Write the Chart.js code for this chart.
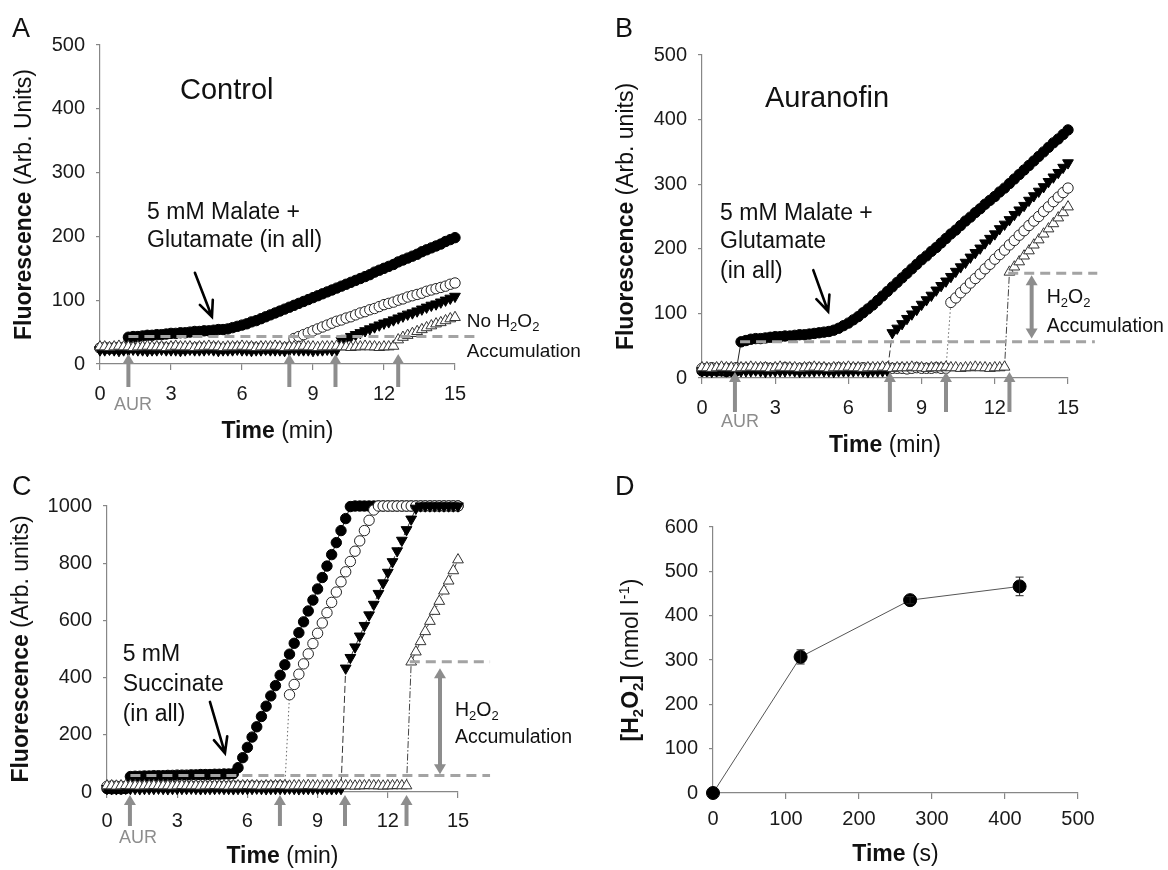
<!DOCTYPE html>
<html>
<head>
<meta charset="utf-8">
<script src="https://cdn.jsdelivr.net/npm/chart.js@4.4.1/dist/chart.umd.min.js"></script>
<style>
html, body { margin: 0; padding: 0; background: #fff; }
#wrap { position: relative; width: 1168px; height: 870px; overflow: hidden; }
canvas { position: absolute; }
</style>
</head>
<body>
<div id="wrap">
  <canvas id="chartA" width="584" height="460" style="left:0;top:0;width:584px;height:460px"></canvas>
  <canvas id="chartB" width="584" height="460" style="left:584px;top:0;width:584px;height:460px"></canvas>
  <canvas id="chartC" width="584" height="430" style="left:0;top:440px;width:584px;height:430px"></canvas>
  <canvas id="chartD" width="584" height="430" style="left:584px;top:440px;width:584px;height:430px"></canvas>
</div>
<script>
// Fluorescence traces, one value every 0.2 min from 0 to 15 min
const DT = 0.2;
const minTicks = [0, 3, 6, 9, 12, 15];
const ticks500 = [0, 100, 200, 300, 400, 500];
const ticks1000 = [0, 200, 400, 600, 800, 1000];

// Panel A - Control
const aFilledCirc = [
  25,25,24,25,26,25,
  42,43,43,44,45,45,46,46,47,48,48,49,49,50,51,51,52,52,53,54,54,55,
  57,59,61,63,66,68,71,74,77,80,83,86,89,92,95,98,101,104,107,110,
  113,116,119,122,125,128,131,134,137,140,144,147,150,153,156,160,163,166,169,172,
  176,179,182,185,188,192,195,198];
const aOpenCirc = [
  25,26,25,25,24,25,26,26,25,25,25,24,25,26,25,25,26,25,24,25,
  25,26,25,25,26,25,24,25,25,26,25,25,26,25,25,24,25,26,25,25,26,
  40,43,46,49,52,55,58,61,64,67,69,72,74,77,80,82,85,87,90,93,
  95,97,100,102,105,107,109,111,114,116,118,120,122,125,127];
const aFilledTri = [
  22,22,23,22,21,22,22,23,22,22,21,22,22,23,22,22,22,21,22,23,
  22,22,22,23,22,21,22,22,22,23,22,22,21,22,22,23,22,22,22,21,
  22,23,22,22,22,21,22,22,23,22,22,
  37,40,43,46,49,52,55,58,61,64,66,69,72,75,78,80,83,86,89,92,94,97,100,103,106];
const aOpenTri = [
  27,27,26,27,28,27,27,26,27,27,28,27,27,27,26,27,28,27,27,27,
  26,27,27,28,27,27,26,27,27,27,28,27,27,26,27,27,27,28,27,26,
  27,27,27,28,27,27,26,27,27,27,28,27,27,26,27,27,28,27,27,26,
  27,27,28,
  38,42,45,48,51,54,57,60,63,65,68,71,73];
const aAdditions = [1.2, 8.0, 9.95, 12.6];
const aLevel = 43;

// Panel B - Auranofin
const bFilledCirc = [
  11,11,12,11,11,10,11,11,
  56,58,60,61,61,62,63,64,64,65,65,66,67,67,68,69,70,71,72,74,
  77,81,85,90,95,101,107,113,120,127,134,141,148,155,162,169,176,183,189,196,
  202,209,216,223,229,236,243,249,256,262,269,275,281,288,294,301,308,315,322,329,
  336,343,350,357,364,370,377,384];
const bOpenCirc = [
  15,15,16,15,14,15,15,16,15,15,15,14,15,16,15,15,15,16,15,14,
  15,15,16,15,15,15,14,15,16,15,15,15,15,16,15,14,15,15,16,15,
  15,15,14,15,16,15,15,15,16,15,15,
  117,124,132,139,147,154,161,169,176,184,191,198,206,213,221,228,236,243,250,258,
  265,273,280,287,294];
const bFilledTri = [
  11,11,10,11,12,11,11,10,11,11,11,12,11,10,11,11,11,11,12,11,
  10,11,11,11,12,11,11,10,11,11,11,11,12,11,10,11,11,11,11,
  70,77,84,92,99,106,114,121,128,136,143,150,157,165,172,179,187,194,201,209,
  216,223,231,238,245,253,260,267,275,282,289,296,304,311,318,326,333];
const bOpenTri = [
  16,16,15,16,17,16,16,15,16,16,17,16,16,16,15,16,17,16,16,16,
  15,16,16,17,16,16,15,16,16,16,17,16,16,15,16,16,16,17,16,15,
  16,16,16,17,16,16,15,16,16,16,17,16,16,15,16,16,17,16,16,15,
  16,16,17,
  164,172,180,189,197,206,214,223,231,239,248,256,265];
const bAdditions = [1.35, 7.7, 10.0, 12.6];
const bLevels = [56, 162];

// Panel C - Succinate
const cFilledCirc = [
  12,11,12,11,12,
  54,55,55,56,56,57,57,57,58,58,59,59,59,60,60,61,61,61,62,62,63,63,64,
  85,120,156,192,228,264,300,336,372,408,445,482,520,557,595,633,671,710,750,790,
  830,872,914,956,998,
  1000,1000,1000,1000,1000,1000,1000,1000,1000,1000,1000,1000,1000,1000,1000,1000,
  1000,1000,1000,1000,1000,1000,1000];
const cOpenCirc = [
  20,21,20,20,19,20,21,20,20,20,21,20,19,20,20,21,20,20,20,19,
  20,21,20,20,20,19,20,21,20,20,20,21,20,19,20,20,20,21,20,
  340,376,412,448,483,519,555,591,627,663,699,735,770,806,842,878,914,950,986,
  1000,1000,1000,1000,1000,1000,1000,1000,1000,1000,1000,1000,1000,1000,1000,1000,1000,1000];
const cFilledTri = [
  12,12,11,12,13,12,12,11,12,12,12,13,12,11,12,12,12,12,13,12,
  11,12,12,12,13,12,12,11,12,12,12,12,13,12,11,12,12,12,12,13,
  12,11,12,12,12,13,12,12,11,12,12,
  433,470,507,545,582,619,656,694,731,768,805,843,880,917,954,992,
  1000,1000,1000,1000,1000,1000,1000,1000,1000];
const cOpenTri = [
  22,22,21,22,23,22,22,21,22,22,23,22,22,22,21,22,23,22,22,22,
  21,22,22,23,22,22,21,22,22,22,23,22,22,21,22,22,22,23,22,21,
  22,22,22,23,22,22,21,22,22,22,23,22,22,21,22,22,23,22,22,21,
  22,22,23,22,22,
  455,490,526,561,597,632,667,703,738,774,812];
const cAdditions = [0.98, 7.39, 10.17, 12.8];
const cLevels = [58, 455];

// Panel D - H2O2 release
const dTime = [0, 120, 270, 420];
const dConc = [0, 307, 435, 466];
const dErr = [0, 16, 8, 21];
const dXTicks = [0, 100, 200, 300, 400, 500];
const dYTicks = [0, 100, 200, 300, 400, 500, 600];

const FONT = '"Liberation Sans", Arial, Helvetica, sans-serif';
const AXIS = '#878787';
const GRAY = '#8d8d8d';
const DASHC = '#a3a3a3';
const INK = '#111';

// marker style per series: filled circle, open circle, filled triangle, open triangle
const MARKS = [
  { style: 'circle', r: 5.2, rot: 0, fill: '#000', edge: '#000', line: '#222', dash: [], order: 4 },
  { style: 'circle', r: 5.2, rot: 0, fill: '#fff', edge: '#222', line: '#666', dash: [1.5, 2.5], order: 3 },
  { style: 'triangle', r: 6.2, rot: 180, fill: '#000', edge: '#000', line: '#333', dash: [7, 3], order: 2 },
  { style: 'triangle', r: 6.2, rot: 0, fill: '#fff', edge: '#333', line: '#444', dash: [7, 2, 1.5, 2], order: 1 }
];

function P(chart, t, v) {
  return { x: chart.scales.x.getPixelForValue(t), y: chart.scales.y.getPixelForValue(v) };
}

// text made of runs (bold / subscript / superscript)
function rich(ctx, parts, x, y, size, opt) {
  opt = opt || {};
  ctx.save();
  ctx.translate(x, y);
  if (opt.rot) ctx.rotate(opt.rot);
  ctx.fillStyle = opt.color || INK;
  ctx.textBaseline = 'middle';
  ctx.textAlign = 'left';
  const fontOf = p => (p.b ? 'bold ' : '') + ((p.sub || p.sup) ? Math.round(size * 0.66) : size) + 'px ' + FONT;
  let w = 0;
  const widths = parts.map(p => { ctx.font = fontOf(p); const m = ctx.measureText(p.t).width; w += m; return m; });
  let cx = opt.align === 'center' ? -w / 2 : (opt.align === 'right' ? -w : 0);
  parts.forEach((p, i) => {
    ctx.font = fontOf(p);
    const dy = p.sub ? size * 0.3 : (p.sup ? -size * 0.32 : 0);
    ctx.fillText(p.t, cx, dy);
    cx += widths[i];
  });
  ctx.restore();
}

function letter(ctx, s, x, y) {
  ctx.save();
  ctx.font = '27px ' + FONT;
  ctx.fillStyle = INK;
  ctx.textBaseline = 'alphabetic';
  ctx.fillText(s, x, y);
  ctx.restore();
}

function arrowHead(ctx, x, y, ang, hl, hw) {
  const c = Math.cos(ang), s = Math.sin(ang);
  const bx = x - c * hl, by = y - s * hl;
  ctx.beginPath();
  ctx.moveTo(x, y);
  ctx.lineTo(bx - s * hw, by + c * hw);
  ctx.lineTo(bx + s * hw, by - c * hw);
  ctx.closePath();
  ctx.fill();
}

function grayArrow(ctx, x1, y1, x2, y2, both) {
  const ang = Math.atan2(y2 - y1, x2 - x1), hl = 10, hw = 6;
  const c = Math.cos(ang), s = Math.sin(ang);
  ctx.save();
  ctx.strokeStyle = GRAY;
  ctx.fillStyle = GRAY;
  ctx.lineWidth = 4;
  ctx.beginPath();
  ctx.moveTo(both ? x1 + c * hl * 0.8 : x1, both ? y1 + s * hl * 0.8 : y1);
  ctx.lineTo(x2 - c * hl * 0.8, y2 - s * hl * 0.8);
  ctx.stroke();
  arrowHead(ctx, x2, y2, ang, hl, hw);
  if (both) arrowHead(ctx, x1, y1, ang + Math.PI, hl, hw);
  ctx.restore();
}

function blackArrow(ctx, a, b) {
  const ang = Math.atan2(b.y - a.y, b.x - a.x), hl = 17, spread = 0.42;
  ctx.save();
  ctx.strokeStyle = '#000';
  ctx.lineWidth = 2.6;
  ctx.lineCap = 'round';
  ctx.beginPath();
  ctx.moveTo(a.x, a.y);
  ctx.lineTo(b.x, b.y);
  ctx.moveTo(b.x - Math.cos(ang - spread) * hl, b.y - Math.sin(ang - spread) * hl);
  ctx.lineTo(b.x, b.y);
  ctx.lineTo(b.x - Math.cos(ang + spread) * hl, b.y - Math.sin(ang + spread) * hl);
  ctx.stroke();
  ctx.restore();
}

function dashed(ctx, a, b) {
  ctx.save();
  ctx.strokeStyle = DASHC;
  ctx.lineWidth = 3;
  ctx.setLineDash([10, 6]);
  ctx.beginPath();
  ctx.moveTo(a.x, a.y);
  ctx.lineTo(b.x, b.y);
  ctx.stroke();
  ctx.restore();
}

function additionArrows(chart, times, tipOff, tailOff) {
  const b = chart.chartArea.bottom;
  times.forEach(t => {
    const x = chart.scales.x.getPixelForValue(t);
    grayArrow(chart.ctx, x, b + tailOff, x, b + tipOff, false);
  });
}

const H2O2 = [{ t: 'H' }, { t: '2', sub: 1 }, { t: 'O' }, { t: '2', sub: 1 }];

function axisTitles(chart, yParts, yX, xParts, xOff) {
  const a = chart.chartArea;
  rich(chart.ctx, yParts, yX, (a.top + a.bottom) / 2, 23, { rot: -Math.PI / 2, align: 'center' });
  rich(chart.ctx, xParts, (a.left + a.right) / 2, a.bottom + xOff, 23, { align: 'center' });
}

function extrasA(chart) {
  const ctx = chart.ctx, a = chart.chartArea, p = (t, v) => P(chart, t, v);
  letter(ctx, 'A', 12, 37);
  axisTitles(chart, [{ t: 'Fluorescence', b: 1 }, { t: ' (Arb. Units)' }], 25,
    [{ t: 'Time', b: 1 }, { t: ' (min)' }], 68);
  dashed(ctx, p(aAdditions[0], aLevel), p(16.05, aLevel));
  additionArrows(chart, aAdditions, -10, 23);
  rich(ctx, [{ t: 'AUR' }], p(1.39, 0).x, a.bottom + 41, 18, { align: 'center', color: GRAY });
  rich(ctx, [{ t: 'Control' }], p(3.38, 428).x, p(3.38, 428).y, 29);
  rich(ctx, [{ t: '5 mM Malate +' }], p(1.99, 237).x, p(1.99, 237).y, 23);
  rich(ctx, [{ t: 'Glutamate (in all)' }], p(1.99, 194).x, p(1.99, 194).y, 23);
  blackArrow(ctx, p(4.01, 143), p(4.73, 74));
  rich(ctx, [{ t: 'No ' }].concat(H2O2), p(15.5, 66).x, p(15.5, 66).y, 19);
  rich(ctx, [{ t: 'Accumulation' }], p(15.5, 19).x, p(15.5, 19).y, 19);
}

function extrasB(chart) {
  const ctx = chart.ctx, a = chart.chartArea, p = (t, v) => P(chart, t, v);
  letter(ctx, 'B', 31, 37);
  axisTitles(chart, [{ t: 'Fluorescence', b: 1 }, { t: ' (Arb. units)' }], 43,
    [{ t: 'Time', b: 1 }, { t: ' (min)' }], 68);
  dashed(ctx, p(1.56, bLevels[0]), p(16.1, bLevels[0]));
  dashed(ctx, p(12.55, bLevels[1]), p(16.2, bLevels[1]));
  const da = p(13.51, 159), db = p(13.51, 61);
  grayArrow(ctx, da.x, da.y, db.x, db.y, true);
  additionArrows(chart, bAdditions, -6, 34);
  rich(ctx, [{ t: 'AUR' }], p(1.56, 0).x, a.bottom + 44, 18, { align: 'center', color: GRAY });
  rich(ctx, [{ t: 'Auranofin' }], p(2.58, 432).x, p(2.58, 432).y, 29);
  rich(ctx, [{ t: '5 mM Malate +' }], p(0.74, 255).x, p(0.74, 255).y, 23);
  rich(ctx, [{ t: 'Glutamate' }], p(0.74, 211).x, p(0.74, 211).y, 23);
  rich(ctx, [{ t: '(in all)' }], p(0.74, 164).x, p(0.74, 164).y, 23);
  blackArrow(ctx, p(4.56, 167), p(5.17, 103));
  rich(ctx, H2O2, p(14.13, 125).x, p(14.13, 125).y, 19.5);
  rich(ctx, [{ t: 'Accumulation' }], p(14.13, 79).x, p(14.13, 79).y, 19.5);
}

function extrasC(chart) {
  const ctx = chart.ctx, a = chart.chartArea, p = (t, v) => P(chart, t, v);
  letter(ctx, 'C', 12, 55);
  axisTitles(chart, [{ t: 'Fluorescence', b: 1 }, { t: ' (Arb. units)' }], 22,
    [{ t: 'Time', b: 1 }, { t: ' (min)' }], 65);
  dashed(ctx, p(1.0, cLevels[0]), p(16.37, cLevels[0]));
  dashed(ctx, p(12.94, cLevels[1]), p(16.37, cLevels[1]));
  const da = p(14.23, 433), db = p(14.23, 62);
  grayArrow(ctx, da.x, da.y, db.x, db.y, true);
  additionArrows(chart, cAdditions, 3, 34);
  rich(ctx, [{ t: 'AUR' }], p(1.32, 0).x, a.bottom + 46, 18, { align: 'center', color: GRAY });
  rich(ctx, [{ t: '5 mM' }], p(0.67, 481).x, p(0.67, 481).y, 23);
  rich(ctx, [{ t: 'Succinate' }], p(0.67, 377).x, p(0.67, 377).y, 23);
  rich(ctx, [{ t: '(in all)' }], p(0.67, 270).x, p(0.67, 270).y, 23);
  blackArrow(ctx, p(4.4, 315), p(5.04, 136));
  rich(ctx, H2O2, p(14.87, 283).x, p(14.87, 283).y, 19.5);
  rich(ctx, [{ t: 'Accumulation' }], p(14.87, 189).x, p(14.87, 189).y, 19.5);
}

function extrasD(chart) {
  const ctx = chart.ctx, p = (t, v) => P(chart, t, v);
  letter(ctx, 'D', 31, 55);
  axisTitles(chart,
    [{ t: '[H', b: 1 }, { t: '2', b: 1, sub: 1 }, { t: 'O', b: 1 }, { t: '2', b: 1, sub: 1 }, { t: ']', b: 1 },
     { t: ' (nmol l' }, { t: '-1', sup: 1 }, { t: ')' }], 48,
    [{ t: 'Time', b: 1 }, { t: ' (s)' }], 62);
  ctx.save();
  ctx.strokeStyle = '#222';
  ctx.lineWidth = 1;
  dTime.forEach((t, i) => {
    if (!dErr[i]) return;
    const hi = p(t, dConc[i] + dErr[i]), lo = p(t, dConc[i] - dErr[i]);
    ctx.beginPath();
    ctx.moveTo(hi.x, hi.y); ctx.lineTo(lo.x, lo.y);
    ctx.moveTo(hi.x - 4, hi.y); ctx.lineTo(hi.x + 4, hi.y);
    ctx.moveTo(lo.x - 4, lo.y); ctx.lineTo(lo.x + 4, lo.y);
    ctx.stroke();
  });
  ctx.restore();
}

function axis(min, max, tickVals, fit, tickPad, tickLen) {
  return {
    type: 'linear', min: min, max: max,
    afterBuildTicks: s => { s.ticks = tickVals.map(v => ({ value: v })); },
    afterFit: fit,
    grid: { drawOnChartArea: false, drawTicks: true, tickLength: tickLen, color: AXIS, lineWidth: 1.2 },
    border: { color: AXIS, width: 1.2 },
    ticks: {
      color: '#1a1a1a', font: { family: FONT, size: 20 }, padding: tickPad,
      maxRotation: 0, autoSkip: false, callback: v => String(v)
    }
  };
}

function makeChart(id, datasets, o) {
  return new Chart(document.getElementById(id), {
    type: 'scatter',
    data: { datasets: datasets },
    options: {
      responsive: false,
      animation: false,
      events: [],
      layout: { padding: { left: 0, top: o.area.top, right: o.w - o.area.right, bottom: 0 } },
      plugins: { legend: { display: false }, tooltip: { enabled: false } },
      scales: {
        x: axis(o.xMin, o.xMax, o.xTicks, s => { s.height = o.h - o.area.bottom; }, o.xPad, 6),
        y: axis(o.yMin, o.yMax, o.yTicks, s => { s.width = o.area.left; }, 11, 4)
      }
    },
    plugins: [{ id: 'extras', afterDraw: o.extras }]
  });
}

function traceSets(series) {
  return series.map((vals, k) => {
    const m = MARKS[k];
    return {
      data: vals.map((v, i) => ({ x: Math.round(i * DT * 10) / 10, y: v })),
      showLine: true, tension: 0,
      borderColor: m.line, borderWidth: 1, borderDash: m.dash,
      pointStyle: m.style, pointRadius: m.r, pointRotation: m.rot,
      pointBackgroundColor: m.fill, pointBorderColor: m.edge, pointBorderWidth: 1,
      order: m.order, clip: false
    };
  });
}

makeChart('chartA', traceSets([aFilledCirc, aOpenCirc, aFilledTri, aOpenTri]), {
  w: 584, h: 460, area: { left: 100, top: 45, right: 455, bottom: 364 },
  xMin: 0, xMax: 15, xTicks: minTicks, yMin: 0, yMax: 500, yTicks: ticks500, xPad: 12, extras: extrasA
});

makeChart('chartB', traceSets([bFilledCirc, bOpenCirc, bFilledTri, bOpenTri]), {
  w: 584, h: 460, area: { left: 118, top: 55, right: 484, bottom: 378 },
  xMin: 0, xMax: 15, xTicks: minTicks, yMin: 0, yMax: 500, yTicks: ticks500, xPad: 12, extras: extrasB
});

makeChart('chartC', traceSets([cFilledCirc, cOpenCirc, cFilledTri, cOpenTri]), {
  w: 584, h: 430, area: { left: 107, top: 66, right: 458, bottom: 352 },
  xMin: 0, xMax: 15, xTicks: minTicks, yMin: 0, yMax: 1000, yTicks: ticks1000, xPad: 11, extras: extrasC
});

makeChart('chartD', [{
  data: dTime.map((t, i) => ({ x: t, y: dConc[i] })),
  showLine: true, tension: 0,
  borderColor: '#555', borderWidth: 1,
  pointStyle: 'circle', pointRadius: 6.5,
  pointBackgroundColor: '#000', pointBorderColor: '#000', pointBorderWidth: 1,
  clip: false
}], {
  w: 584, h: 430, area: { left: 129, top: 87, right: 494, bottom: 353 },
  xMin: 0, xMax: 500, xTicks: dXTicks, yMin: 0, yMax: 600, yTicks: dYTicks, xPad: 8, extras: extrasD
});
</script>
</body>
</html>
